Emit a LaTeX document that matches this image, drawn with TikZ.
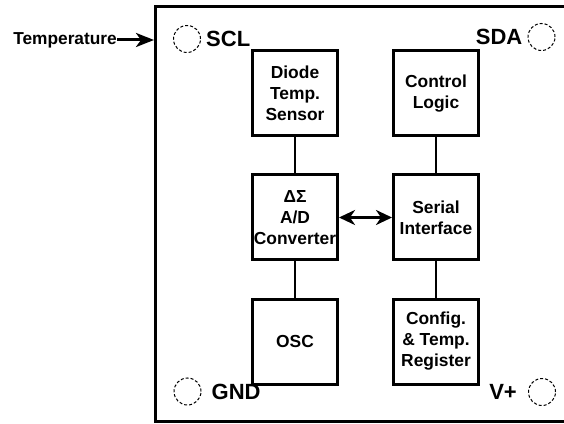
\documentclass[tikz,border=0pt]{standalone}
\usepackage{fontspec}
\setmainfont{Liberation Sans}
\usetikzlibrary{arrows.meta,positioning}
\tikzset{
  block/.style={draw,line width=3pt,minimum width=85pt,minimum height=85pt,align=center,inner sep=1pt,font=\fontsize{17.4}{21}\selectfont\bfseries},
  pin/.style={draw,densely dashed,line width=1pt,circle,minimum size=27pt,inner sep=0pt},
  pinlabel/.style={inner sep=0pt,font=\fontsize{22}{25}\selectfont\bfseries},
  link/.style={line width=2.5pt},
  arr/.style={-{Stealth[length=18pt,width=14pt,inset=5pt]},line width=3pt},
  dbl/.style={{Stealth[length=16pt,width=15pt,inset=5pt]}-{Stealth[length=16pt,width=15pt,inset=5pt]},line width=3pt}
}
\begin{document}
\begin{tikzpicture}[x=1pt,y=1pt,node distance=36pt and 53pt]
  \useasboundingbox (0,0) rectangle (564,423);
  % chip outline, right side runs off the page
  \draw[line width=3pt] (575,416) -- (155.7,416) -- (155.7,2) -- (575,2);
  \node[block] (diode) at (295,329.5) {Diode\\Temp.\\Sensor};
  \node[block,below=of diode] (adc) {ΔΣ\\A/D\\Converter};
  \node[block,below=of adc] (osc) {OSC};
  \node[block,right=of diode] (logic) {Control\\Logic};
  \node[block,right=of adc] (serial) {Serial\\Interface};
  \node[block,right=of osc] (config) {Config.\\\&~Temp.\\Register};
  \draw[link] (diode) -- (adc);
  \draw[link] (adc) -- (osc);
  \draw[link] (logic) -- (serial);
  \draw[link] (serial) -- (config);
  \draw[dbl] (adc) -- (serial);
  % pins
  \node[pin] (scl) at (187,384) {};
  \node[pinlabel,right=5pt of scl] (scltxt) {SCL};
  \node[pin] (sda) at (541.5,386) {};
  \node[pinlabel,left=5pt of sda] (sdatxt) {SDA};
  \node[pin] (gnd) at (187.5,31.5) {};
  \node[pinlabel,right=10pt of gnd] (gndtxt) {GND};
  \node[pin] (vplus) at (542,31) {};
  \node[pinlabel,left=11pt of vplus] (vplustxt) {V+};
  % temperature input
  \node[inner sep=0pt,anchor=east,font=\fontsize{17.3}{20}\selectfont\bfseries] (temp) at (117,383) {Temperature};
  \coordinate (edge) at (154,383);
  \draw[arr] (temp) -- (edge);
\end{tikzpicture}
\end{document}
